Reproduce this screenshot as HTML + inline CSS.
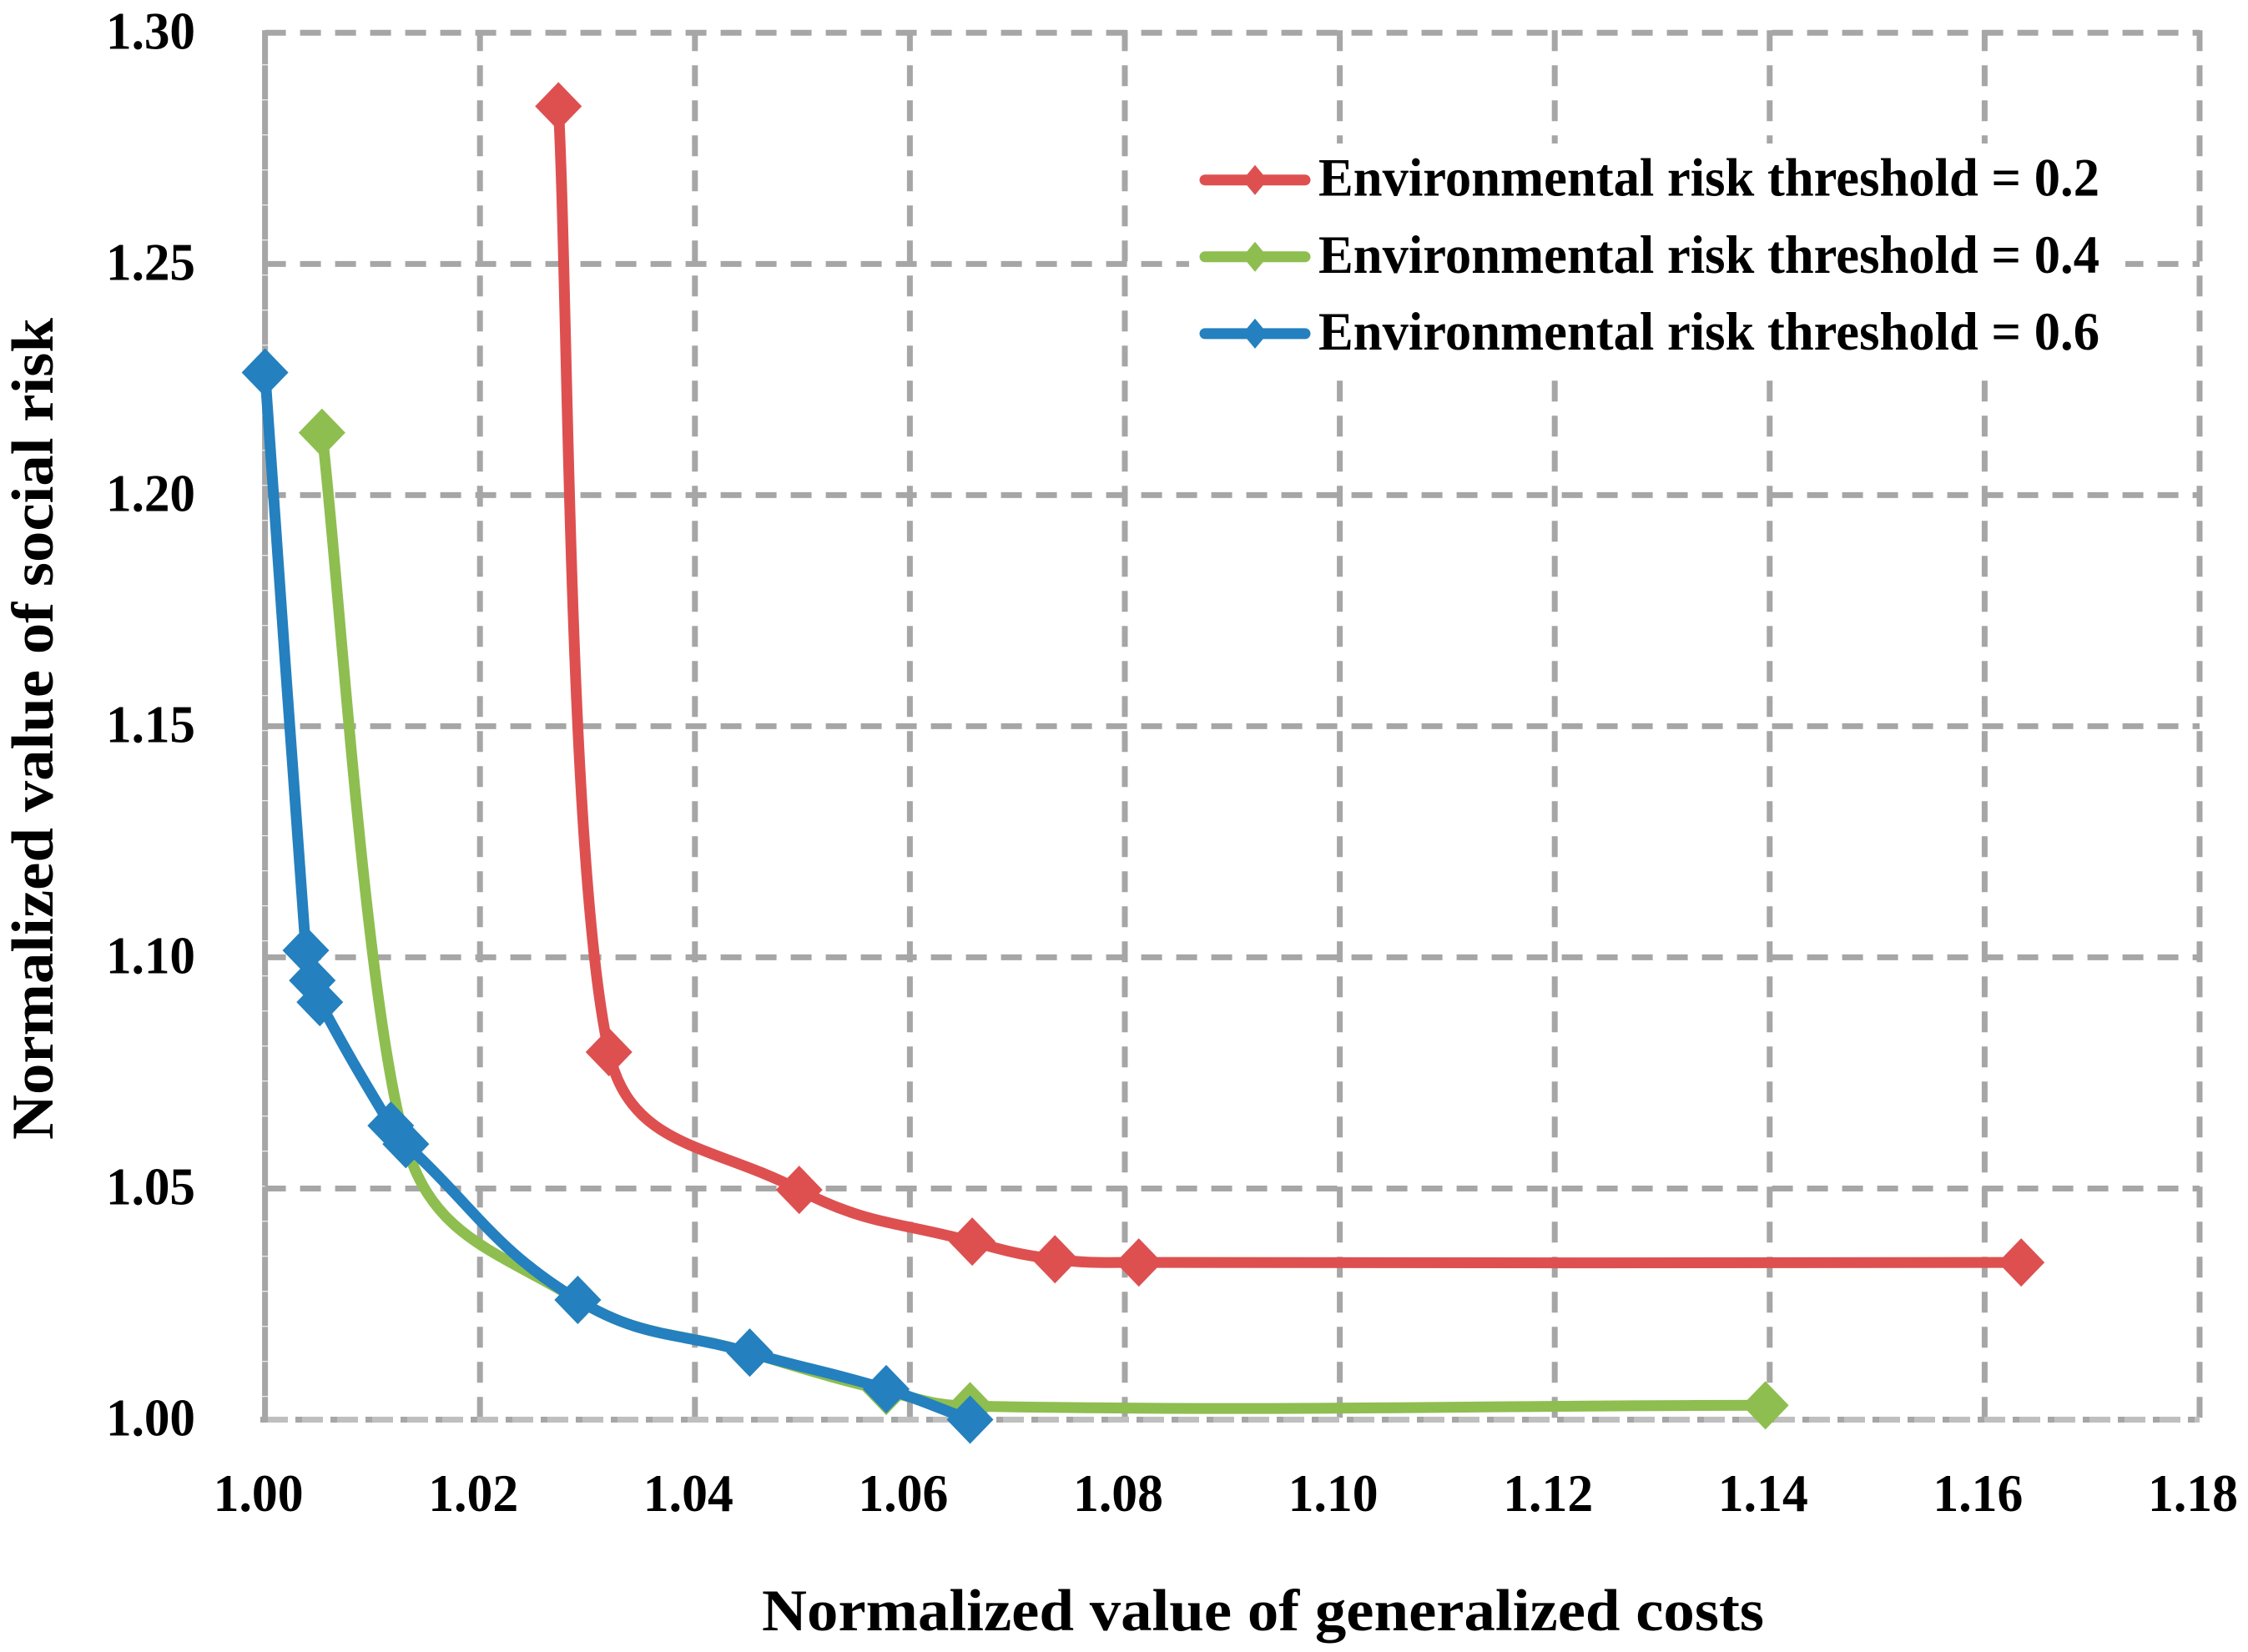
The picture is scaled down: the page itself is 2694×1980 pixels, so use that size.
<!DOCTYPE html>
<html lang="en">
<head>
<meta charset="utf-8">
<title>Normalized social risk versus generalized costs</title>
<style>
html,body{margin:0;padding:0;background:#fff;}
#chart{display:block;width:2694px;height:1980px;}
text{font-family:"Liberation Serif",serif;font-weight:bold;fill:#000;}
</style>
</head>
<body>
<svg id="chart" xmlns="http://www.w3.org/2000/svg" width="2694" height="1980" viewBox="0 0 2694 1980">
  <rect x="0" y="0" width="2694" height="1980" fill="#ffffff"/>
  <g id="grid"></g>
  <g id="ticks"></g>
  <g id="series"></g>
  <rect x="1425" y="172" width="1122" height="273" fill="#ffffff"/>
  <g id="legend"></g>
  <text x="913" y="1954" font-size="71" textLength="1201" lengthAdjust="spacingAndGlyphs">Normalized value of generalized costs</text>
  <text transform="translate(63,1366) rotate(-90)" x="0" y="0" font-size="71" textLength="985" lengthAdjust="spacingAndGlyphs">Normalized value of social risk</text>
</svg>
<script>
const xTickLabels = ["1.00","1.02","1.04","1.06","1.08","1.10","1.12","1.14","1.16","1.18"];
const yTickLabels = ["1.00","1.05","1.10","1.15","1.20","1.25","1.30"];

const redX = [1.0273,1.0320,1.0497,1.0658,1.0735,1.0813,1.1634];
const redY = [1.2841,1.0795,1.0497,1.0385,1.0347,1.0340,1.0340];

const greenX = [1.0053,1.0131,1.0291,1.0451,1.0578,1.0656,1.1396];
const greenY = [1.2135,1.0596,1.0259,1.0145,1.0062,1.0029,1.0031];

const blueX = [1.0000,1.0038,1.0044,1.0051,1.0117,1.0131,1.0291,1.0451,1.0578,1.0656];
const blueY = [1.2265,1.1015,1.0950,1.0903,1.0636,1.0596,1.0259,1.0145,1.0066,1.0000];

const seriesNames = ["Environmental risk threshold = 0.2","Environmental risk threshold = 0.4","Environmental risk threshold = 0.6"];

const NS = "http://www.w3.org/2000/svg";
const GRAY = "#a6a6a6";
const plot = {left:317.6, right:2636, top:39.3, bottom:1701.5};
const xMin = 1.00, xMax = 1.18, yMin = 1.00, yMax = 1.30;

function xScale(v){ return plot.left + (v - xMin) / (xMax - xMin) * (plot.right - plot.left); }
function yScale(v){ return plot.bottom - (v - yMin) / (yMax - yMin) * (plot.bottom - plot.top); }

function make(tag, parent, attrs){
  const el = document.createElementNS(NS, tag);
  for (const k in attrs) el.setAttribute(k, attrs[k]);
  parent.appendChild(el);
  return el;
}

function smoothPath(pts){
  const tangent = i => {
    const a = pts[Math.max(i - 1, 0)], b = pts[Math.min(i + 1, pts.length - 1)];
    const dx = b[0] - a[0], dy = b[1] - a[1], n = Math.hypot(dx, dy) || 1;
    return [dx / n, dy / n];
  };
  let d = "M" + pts[0][0].toFixed(1) + " " + pts[0][1].toFixed(1);
  for (let i = 0; i < pts.length - 1; i++){
    const p = pts[i], q = pts[i + 1];
    const L = Math.hypot(q[0] - p[0], q[1] - p[1]);
    const steepLong = L > 500 && Math.abs(q[1] - p[1]) > 2 * Math.abs(q[0] - p[0]);
    const k = steepLong ? 0.2 : 0.42;
    const t0 = tangent(i), t1 = tangent(i + 1);
    d += " C" + (p[0] + t0[0] * L * k).toFixed(1) + " " + (p[1] + t0[1] * L * k).toFixed(1) +
         " " + (q[0] - t1[0] * L * k).toFixed(1) + " " + (q[1] - t1[1] * L * k).toFixed(1) +
         " " + q[0].toFixed(1) + " " + q[1].toFixed(1);
  }
  return d;
}

function diamondPoints(cx, cy, hw, hh){
  return cx + "," + (cy - hh) + " " + (cx + hw) + "," + cy + " " + cx + "," + (cy + hh) + " " + (cx - hw) + "," + cy;
}

/* gridlines */
const grid = document.getElementById("grid");
xTickLabels.forEach((label, i) => {
  if (i === 0) return;
  const x = xScale(parseFloat(label));
  const line = make("line", grid, {x1:x, x2:x, y1:plot.top - 3, y2:plot.bottom, stroke:GRAY, "stroke-width":7, "stroke-dasharray":"25 17"});
  
  
});
yTickLabels.forEach((label, i) => {
  if (i === 0) return;
  const y = yScale(parseFloat(label));
  const line = make("line", grid, {x1:plot.left, x2:plot.right, y1:y, y2:y, stroke:GRAY, "stroke-width":7, "stroke-dasharray":"25 17"});
  
  
});
const axisLight = make("line", grid, {x1:312, x2:plot.right, y1:plot.bottom, y2:plot.bottom, stroke:"#bfbfbf", "stroke-width":7, "stroke-dasharray":"33 9"});


const axisDark = make("line", grid, {x1:312, x2:plot.right, y1:plot.bottom, y2:plot.bottom, stroke:GRAY, "stroke-width":7, "stroke-dasharray":"8 34"});


const axisY = make("line", grid, {x1:plot.left, x2:plot.left, y1:plot.top - 3, y2:plot.bottom + 3, stroke:GRAY, "stroke-width":7, "stroke-dasharray":"41 1"});



/* tick labels */
const ticks = document.getElementById("ticks");
xTickLabels.forEach(label => {
  const t = make("text", ticks, {x:xScale(parseFloat(label)) - 62, y:1811, "font-size":63, textLength:108, lengthAdjust:"spacingAndGlyphs"});
  t.textContent = label;
  
  
});
yTickLabels.forEach(label => {
  const t = make("text", ticks, {x:127, y:yScale(parseFloat(label)) + 19, "font-size":63, textLength:107, lengthAdjust:"spacingAndGlyphs"});
  t.textContent = label;
  
  
});

/* series */
const seriesGroup = document.getElementById("series");
function drawSeries(xs, ys, color, name){
  const pts = xs.map((v, i) => [xScale(v), yScale(ys[i])]);
  const path = make("path", seriesGroup, {d:smoothPath(pts), fill:"none", stroke:color, "stroke-width":13, "stroke-linejoin":"round"});
  
  
  pts.forEach(p => {
    const m = make("polygon", seriesGroup, {points:diamondPoints(p[0], p[1], 28, 29), fill:color});
    
    
  });
}
drawSeries(redX, redY, "#de5050", "red-series");
drawSeries(greenX, greenY, "#8ebe50", "green-series");
drawSeries(blueX, blueY, "#2480bf", "blue-series");

/* legend */
const legend = document.getElementById("legend");
const legendColors = ["#de5050","#8ebe50","#2480bf"];
seriesNames.forEach((name, i) => {
  const y = 215.7 + i * 92.1;
  const line = make("line", legend, {x1:1444, x2:1564, y1:y, y2:y, stroke:legendColors[i], "stroke-width":13, "stroke-linecap":"round"});
  
  
  const m = make("polygon", legend, {points:diamondPoints(1504, y, 15, 18), fill:legendColors[i]});
  
  
  const t = make("text", legend, {x:1580, y:y + 19, "font-size":65, textLength:936, lengthAdjust:"spacingAndGlyphs"});
  t.textContent = name;
  
  
});
</script>
</body>
</html>
